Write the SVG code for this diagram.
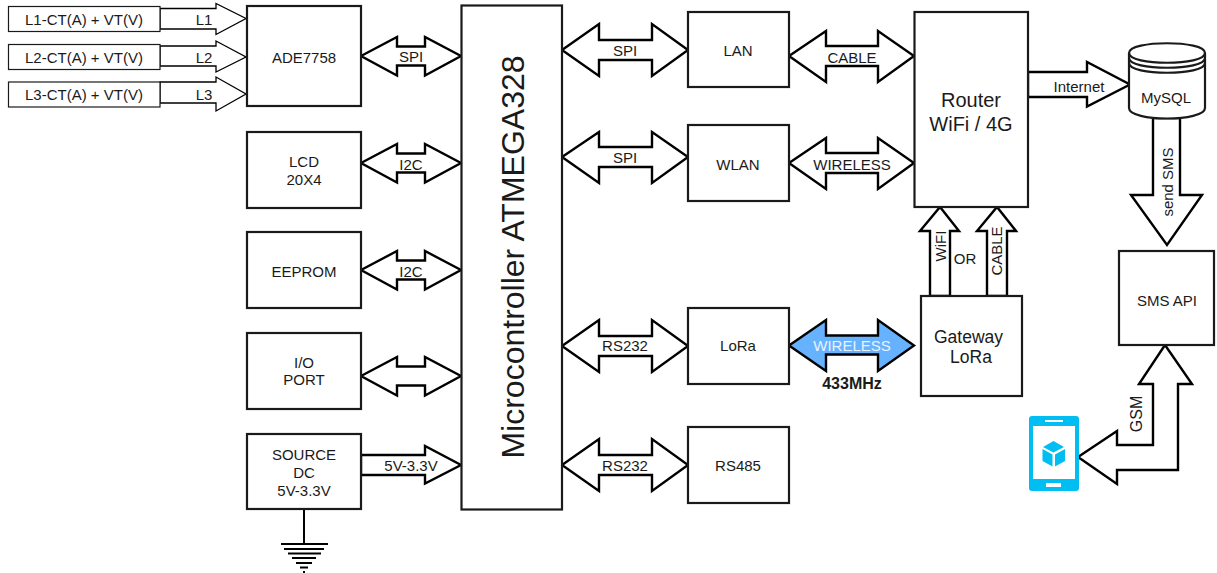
<svg xmlns="http://www.w3.org/2000/svg" width="1217" height="573" viewBox="0 0 1217 573">
<style>
text{font-family:"Liberation Sans",Arial,sans-serif;font-size:15px;fill:#1a1a1a;text-anchor:middle}
.box{fill:#fff;stroke:#1a1a1a;stroke-width:2.2}
.thin{fill:#fff;stroke:#1a1a1a;stroke-width:1.2}
.arr{fill:#fff;stroke:#000;stroke-width:2.4;stroke-linejoin:miter}
.arrt{fill:#fff;stroke:#000;stroke-width:1.3}
</style>
<rect width="1217" height="573" fill="#fff"/>
<g id="connectors">
<polygon class="arrt" points="160,8.500 216,8.500 216,3.500 246,18.500 216,34.500 216,29 160,29"/>
<polygon class="arrt" points="160,46 216,46 216,41 246,57 216,72 216,66 160,66"/>
<polygon class="arrt" points="160,82 216,82 216,77 246,94 216,111 216,103 160,103"/>
<polygon class="arr" points="361,56 397,37 397,46.500 425,46.500 425,37 461,56 425,75.500 425,65.500 397,65.500 397,75.500"/>
<polygon class="arr" points="361,163 397,144 397,153.500 425,153.500 425,144 461,163 425,182.500 425,172.500 397,172.500 397,182.500"/>
<polygon class="arr" points="361,270 397,251 397,260.500 425,260.500 425,251 461,270 425,289.500 425,279.500 397,279.500 397,289.500"/>
<polygon class="arr" points="361,376 397,357 397,366.500 425,366.500 425,357 461,376 425,395.500 425,385.500 397,385.500 397,395.500"/>
<polygon class="arr" points="361,455 425,455 425,446 461,465 425,483.500 425,475 361,475"/>
<polygon class="arr" points="562,50 599,24 599,40 652,40 652,24 688,50 652,76 652,60 599,60 599,76"/>
<polygon class="arr" points="562,157 599,132 599,147 652,147 652,132 688,157 652,183 652,167 599,167 599,183"/>
<polygon class="arr" points="562,346 599,320 599,336 652,336 652,320 688,346 652,372 652,356 599,356 599,372"/>
<polygon class="arr" points="562,465 599,439 599,455 652,455 652,439 688,465 652,491 652,475 599,475 599,491"/>
<polygon class="arr" points="789,56 826,31 826,46 878,46 878,31 914,56 878,82 878,66 826,66 826,82"/>
<polygon class="arr" points="789,163 826,138 826,153 878,153 878,138 914,163 878,189 878,173 826,173 826,189"/>
<polygon class="arr" style="fill:#66b2ff" points="789,345.500 826,320 826,335.500 878,335.500 878,320 914,345.500 878,371 878,354.500 826,354.500 826,371"/>
<polygon class="arr" points="1028,72 1087,72 1087,62 1130,84.500 1087,106.500 1087,97 1028,97"/>
<polygon class="arr" points="1153,118 1180,118 1180,195 1202,195 1167,245 1131,195 1153,195"/>
<polygon class="arr" points="930,296 930,231 920,231 940,207 959,231 950,231 950,296"/>
<polygon class="arr" points="987,296 987,231 977,231 997,207 1016,231 1007,231 1007,296"/>
<polygon class="arr" points="1165,345 1192,384 1178,384 1178,470 1117,470 1117,484 1078,457 1117,431 1117,445 1153,445 1153,384 1139,384"/>
<g id="ground" stroke="#000" stroke-width="2" fill="none">
<path d="M304 509V544M281 544H328M284 549H324M288 553.500H321M292 558H316M296 563H312M300 567.500H308M303 572H305"/>
</g>
</g>
<g id="L1src"><rect class="thin" x="8.500" y="6.500" width="151.500" height="25"/><text x="84" y="25">L1-CT(A) + VT(V)</text></g>
<g id="L2src"><rect class="thin" x="8.500" y="44.500" width="151.500" height="25"/><text x="84" y="63">L2-CT(A) + VT(V)</text></g>
<g id="L3src"><rect class="thin" x="8.500" y="82" width="151.500" height="25"/><text x="84" y="100">L3-CT(A) + VT(V)</text></g>
<g id="ade"><rect class="box" x="247" y="6" width="114" height="100"/><text x="304" y="63">ADE7758</text></g>
<g id="lcd"><rect class="box" x="247" y="132" width="114" height="76"/><text x="304" y="167">LCD</text><text x="304" y="185">20X4</text></g>
<g id="eeprom"><rect class="box" x="247" y="232" width="114" height="76"/><text x="304" y="277">EEPROM</text></g>
<g id="io"><rect class="box" x="247" y="333" width="114" height="76"/><text x="304" y="368">I/O</text><text x="304" y="385">PORT</text></g>
<g id="source"><rect class="box" x="247" y="434" width="114" height="75"/><text x="304" y="460">SOURCE</text><text x="304" y="478">DC</text><text x="304" y="496">5V-3.3V</text></g>
<g id="mcu"><rect class="box" x="461.500" y="5.500" width="100.500" height="504"/><text transform="translate(524 257) rotate(-90)" style="font-size:32px">Microcontroller ATMEGA328</text></g>
<g id="lan"><rect class="box" x="688" y="12" width="101" height="75"/><text x="738" y="56">LAN</text></g>
<g id="wlan"><rect class="box" x="688" y="125" width="101" height="76"/><text x="738" y="170">WLAN</text></g>
<g id="lora"><rect class="box" x="688" y="308" width="101" height="76"/><text x="738" y="351">LoRa</text></g>
<g id="rs485"><rect class="box" x="688" y="427" width="101" height="76"/><text x="738" y="471">RS485</text></g>
<g id="router"><rect class="box" x="914.500" y="12" width="113.500" height="195"/><text x="971" y="107" style="font-size:20px">Router</text><text x="971" y="131" style="font-size:20px">WiFi / 4G</text></g>
<g id="gateway"><rect class="box" x="921" y="296" width="101" height="100"/><text x="968.500" y="343" style="font-size:17.500px">Gateway</text><text x="971" y="363" style="font-size:17.500px">LoRa</text></g>
<g id="smsapi"><rect class="box" x="1119" y="251" width="95" height="94"/><text x="1167" y="306">SMS API</text></g>
<g id="mysql">
<path class="box" d="M1129 53C1129 40 1205 40 1205 53V108C1205 122 1129 122 1129 108Z"/>
<path fill="none" stroke="#1a1a1a" stroke-width="2.200" d="M1129 53C1129 66 1205 66 1205 53M1129 58C1129 71 1205 71 1205 58M1129 63C1129 76 1205 76 1205 63"/>
<text x="1166" y="103">MySQL</text>
</g>
<g id="phone">
<rect x="1029" y="416" width="50" height="75" rx="3" fill="#00bef2"/>
<rect x="1033" y="426" width="42" height="53" fill="#fff"/>
<rect x="1045" y="420" width="18" height="2" fill="#fff"/>
<rect x="1046" y="483" width="15" height="4" fill="#fff"/>
<path fill="#00bef2" d="M1053.500 441L1064 447L1053.500 452.500L1043 447ZM1042.500 449L1052.500 454.500V466.500L1042.500 461ZM1065 449V461L1055 466.500V454.500Z"/>
</g>
<g id="labels">
<text x="204" y="25">L1</text><text x="204" y="63">L2</text><text x="204" y="100">L3</text>
<text x="411" y="62">SPI</text><text x="411" y="170">I2C</text><text x="411" y="277">I2C</text>
<text x="411" y="471">5V-3.3V</text>
<text x="625" y="56">SPI</text><text x="625" y="163">SPI</text><text x="625" y="351">RS232</text><text x="625" y="471">RS232</text>
<text x="852" y="63">CABLE</text><text x="852" y="170">WIRELESS</text>
<text x="852" y="351" style="fill:#e8f3ff">WIRELESS</text>
<text x="852" y="389" style="font-weight:bold;font-size:16px">433MHz</text>
<text x="1079" y="92">Internet</text>
<text x="965" y="264">OR</text>
<text transform="translate(946 246) rotate(-90)">WiFI</text>
<text transform="translate(1002 251) rotate(-90)">CABLE</text>
<text transform="translate(1173 182) rotate(-90)">send SMS</text>
<text transform="translate(1142 414) rotate(-90)" style="font-size:16px">GSM</text>
</g>
</svg>
